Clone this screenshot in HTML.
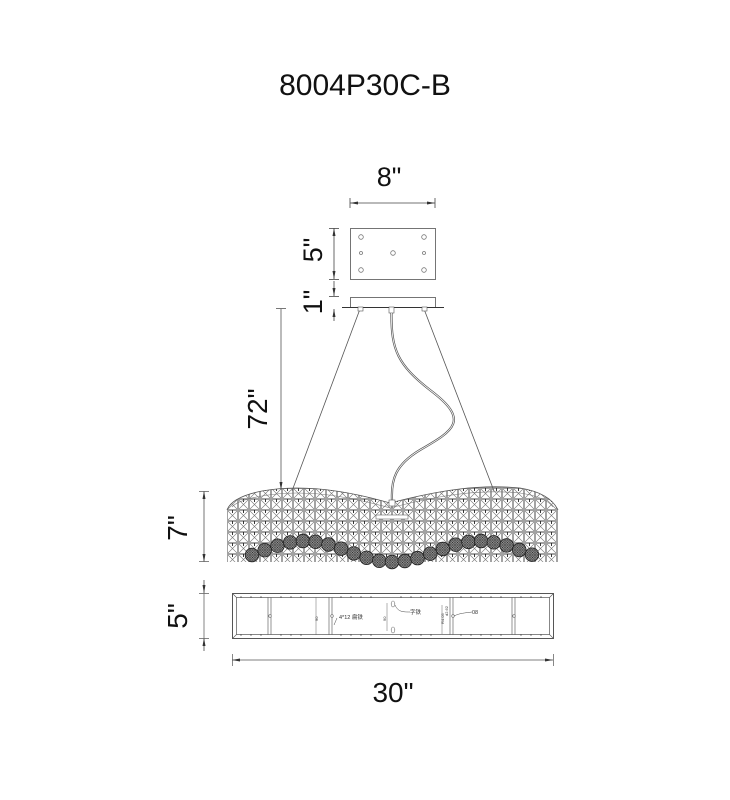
<!DOCTYPE html>
<html><head><meta charset="utf-8"><style>
html,body{margin:0;padding:0;background:#fff;}
svg{display:block;font-family:"Liberation Sans","Noto Sans CJK SC",sans-serif;}
</style></head><body>
<svg width="730" height="800" viewBox="0 0 730 800" xmlns="http://www.w3.org/2000/svg">
<defs>
<pattern id="grid" x="227" y="488" width="11" height="11" patternUnits="userSpaceOnUse">
<rect x="0.5" y="0.5" width="10" height="10" fill="none" stroke="#666" stroke-width="0.6"/>
<path d="M1,1L10,10M10,1L1,10" stroke="#777" stroke-width="0.55"/>
<path d="M5.5,0V3" stroke="#222" stroke-width="0.9"/>
</pattern>
<pattern id="mesh" width="2.5" height="2.5" patternUnits="userSpaceOnUse">
<rect width="2.5" height="2.5" fill="#888"/>
<path d="M0,0L2.5,2.5M2.5,0L0,2.5" stroke="#333" stroke-width="0.5"/>
</pattern>
<marker id="ar" markerWidth="8" markerHeight="6" refX="8" refY="3" orient="auto-start-reverse" markerUnits="userSpaceOnUse">
<path d="M0,1.5L8,3L0,4.5Z" fill="#333"/>
</marker>
<clipPath id="body"><path d="M227,510 Q232,497 262,491 C300,484 345,490 390,503 C440,490 480,484 520,488 Q550,493 558,510 L558,562 L227,562Z"/></clipPath>
</defs>

<text x="365" y="95" font-size="30" text-anchor="middle" fill="#111">8004P30C-B</text>
<text x="389" y="186" font-size="27" text-anchor="middle" fill="#111">8"</text>

<line x1="350" y1="203" x2="435" y2="203" stroke="#444" stroke-width="0.8" marker-start="url(#ar)" marker-end="url(#ar)"/>
<line x1="350" y1="198" x2="350" y2="208" stroke="#444" stroke-width="0.8"/>
<line x1="435" y1="198" x2="435" y2="208" stroke="#444" stroke-width="0.8"/>

<rect x="350.5" y="228.5" width="85" height="51" fill="#fff" stroke="#666" stroke-width="0.9"/>
<g fill="none" stroke="#777" stroke-width="0.8">
<circle cx="361" cy="237" r="2.3"/><circle cx="424" cy="237" r="2.3"/>
<circle cx="361" cy="253" r="1.5"/><circle cx="393" cy="253" r="2.3"/><circle cx="424" cy="253" r="1.5"/>
<circle cx="361" cy="270" r="2.3"/><circle cx="424" cy="270" r="2.3"/>
</g>
<rect x="350.5" y="297.5" width="85" height="10" fill="#fff" stroke="#666" stroke-width="0.9"/>
<line x1="342" y1="307.5" x2="444" y2="307.5" stroke="#333" stroke-width="1"/>

<line x1="334" y1="228" x2="334" y2="279" stroke="#444" stroke-width="0.8" marker-start="url(#ar)" marker-end="url(#ar)"/>
<line x1="329" y1="228.5" x2="339" y2="228.5" stroke="#444" stroke-width="0.8"/>
<line x1="329" y1="279.5" x2="339" y2="279.5" stroke="#444" stroke-width="0.8"/>
<line x1="334" y1="281" x2="334" y2="296" stroke="#444" stroke-width="0.8" marker-end="url(#ar)"/>
<line x1="334" y1="321" x2="334" y2="309" stroke="#444" stroke-width="0.8" marker-end="url(#ar)"/>
<line x1="329" y1="296.5" x2="339" y2="296.5" stroke="#444" stroke-width="0.8"/>
<text transform="translate(322,250) rotate(-90)" font-size="27" text-anchor="middle" fill="#111">5"</text>
<text transform="translate(322,302) rotate(-90)" font-size="27" text-anchor="middle" fill="#111">1"</text>

<line x1="281" y1="309" x2="281" y2="490" stroke="#555" stroke-width="0.8" marker-end="url(#ar)"/>
<line x1="276" y1="308.5" x2="286" y2="308.5" stroke="#555" stroke-width="0.8"/>
<text transform="translate(267,409) rotate(-90)" font-size="28" text-anchor="middle" fill="#111">72"</text>

<line x1="360" y1="309" x2="292" y2="491" stroke="#555" stroke-width="0.8"/>
<line x1="424" y1="309" x2="494" y2="491" stroke="#555" stroke-width="0.8"/>
<rect x="358" y="307" width="5" height="4" fill="#fff" stroke="#555" stroke-width="0.6"/>
<rect x="422" y="307" width="5" height="4" fill="#fff" stroke="#555" stroke-width="0.6"/>
<rect x="389" y="307" width="5" height="6" fill="#fff" stroke="#555" stroke-width="0.6"/>
<path d="M391.5,313 C391,350 398,365 430,390 C470,420 455,430 420,450 C395,465 391,480 392,500" fill="none" stroke="#555" stroke-width="2.2"/>
<path d="M391.5,313 C391,350 398,365 430,390 C470,420 455,430 420,450 C395,465 391,480 392,500" fill="none" stroke="#fff" stroke-width="0.8"/>

<g clip-path="url(#body)"><rect x="227" y="485" width="332" height="80" fill="url(#grid)"/></g>
<path d="M227,510 Q232,497 262,491 C300,484 345,490 390,503 C440,490 480,484 520,488 Q550,493 558,510" fill="none" stroke="#555" stroke-width="0.8"/>
<path d="M232,507 Q238,500 262,496 C300,489 345,495 390,508 C440,495 480,489 520,493 Q546,497 553,507" fill="none" stroke="#777" stroke-width="0.6"/>
<rect x="389" y="500" width="6" height="6" fill="#fff" stroke="#555" stroke-width="0.6"/>
<rect x="376" y="515" width="32" height="4" fill="#fff" stroke="#666" stroke-width="0.6"/>

<g fill="url(#mesh)" stroke="#222" stroke-width="0.8">
<circle cx="252" cy="555" r="6.8"/><circle cx="264.7" cy="550.2" r="6.8"/><circle cx="277.5" cy="545.7" r="6.8"/>
<circle cx="290.2" cy="542.4" r="6.8"/><circle cx="302.9" cy="541" r="6.8"/><circle cx="315.6" cy="541.8" r="6.8"/>
<circle cx="328.4" cy="544.5" r="6.8"/><circle cx="341.1" cy="548.7" r="6.8"/><circle cx="353.8" cy="553.4" r="6.8"/>
<circle cx="366.6" cy="557.8" r="6.8"/><circle cx="379.3" cy="560.8" r="6.8"/><circle cx="392" cy="562" r="6.8"/>
<circle cx="404.8" cy="561" r="6.8"/><circle cx="417.5" cy="558.1" r="6.8"/><circle cx="430.2" cy="553.7" r="6.8"/>
<circle cx="442.9" cy="549" r="6.8"/><circle cx="455.7" cy="544.7" r="6.8"/><circle cx="468.4" cy="541.9" r="6.8"/>
<circle cx="481.1" cy="541" r="6.8"/><circle cx="493.8" cy="542.3" r="6.8"/><circle cx="506.6" cy="545.4" r="6.8"/>
<circle cx="519.3" cy="550" r="6.8"/><circle cx="532" cy="554.7" r="6.8"/>
</g>

<line x1="204" y1="491" x2="204" y2="562" stroke="#666" stroke-width="0.9" marker-start="url(#ar)" marker-end="url(#ar)"/>
<line x1="199" y1="491.5" x2="209" y2="491.5" stroke="#666" stroke-width="0.8"/>
<line x1="199" y1="561.5" x2="209" y2="561.5" stroke="#666" stroke-width="0.8"/>
<text transform="translate(187,528) rotate(-90)" font-size="28" text-anchor="middle" fill="#111">7"</text>

<line x1="204" y1="580" x2="204" y2="651" stroke="#666" stroke-width="0.8"/>
<line x1="204" y1="580" x2="204" y2="593" stroke="#666" stroke-width="0.8" marker-end="url(#ar)"/>
<line x1="204" y1="651" x2="204" y2="638" stroke="#666" stroke-width="0.8" marker-end="url(#ar)"/>
<line x1="199" y1="593.5" x2="209" y2="593.5" stroke="#666" stroke-width="0.8"/>
<line x1="199" y1="638.5" x2="209" y2="638.5" stroke="#666" stroke-width="0.8"/>
<text transform="translate(187,616) rotate(-90)" font-size="28" text-anchor="middle" fill="#111">5"</text>

<rect x="232.5" y="593.5" width="321" height="45" fill="none" stroke="#444" stroke-width="0.9"/>
<rect x="236.5" y="597.5" width="313" height="37" fill="none" stroke="#555" stroke-width="0.7"/>
<path d="M232.5,593.5L236.5,597.5M553.5,593.5L549.5,597.5M232.5,638.5L236.5,634.5M553.5,638.5L549.5,634.5" stroke="#555" stroke-width="0.6"/>
<g stroke="#666" stroke-width="0.7">
<line x1="268" y1="597" x2="268" y2="635"/><line x1="271" y1="597" x2="271" y2="635"/>
<line x1="329" y1="597" x2="329" y2="635"/><line x1="332" y1="597" x2="332" y2="635"/>
<line x1="450" y1="597" x2="450" y2="635"/><line x1="453" y1="597" x2="453" y2="635"/>
<line x1="512" y1="597" x2="512" y2="635"/><line x1="515" y1="597" x2="515" y2="635"/>
<line x1="316" y1="597" x2="316" y2="635" stroke-width="0.5"/>
<line x1="387" y1="603" x2="387" y2="631" stroke-width="0.5"/>
<line x1="442" y1="605" x2="442" y2="634" stroke-width="0.5"/>
</g>
<g fill="#fff" stroke="#666" stroke-width="0.6">
<ellipse cx="393" cy="604" rx="1.8" ry="3"/><ellipse cx="393" cy="630" rx="1.8" ry="3"/>
<circle cx="270" cy="616" r="1.3"/><circle cx="332" cy="616" r="1.3"/><circle cx="453" cy="616" r="1.3"/><circle cx="514" cy="616" r="1.3"/>
</g>
<path d="M395,605 C398,612 403,612 410,612" fill="none" stroke="#444" stroke-width="0.5"/>
<path d="M454,616 C460,613 465,613 472,612" fill="none" stroke="#444" stroke-width="0.5"/>
<path d="M334,625 L337,618" stroke="#444" stroke-width="0.5"/>
<g font-size="5.5" fill="#333">
<text x="339" y="619">4*12 扁铁</text>
<text x="410" y="614">字铁</text>
<text x="472" y="614">08</text>
<text transform="translate(318,621) rotate(-90)" font-size="4">90</text>
<text transform="translate(386,621) rotate(-90)" font-size="4">90</text>
<text transform="translate(444,624) rotate(-90)" font-size="4">R4.05</text>
<text transform="translate(448,616) rotate(-90)" font-size="4">d2.62</text>
</g>
<g stroke="#333" stroke-width="0.6">
<path d="M241,596v2M251,596v2M261,596v2M281,596v2M291,596v2M301,596v2M341,596v2M351,596v2M361,596v2M371,596v2M401,596v2M411,596v2M421,596v2M431,596v2M461,596v2M471,596v2M481,596v2M491,596v2M501,596v2M521,596v2M531,596v2M541,596v2"/>
<path d="M241,634v2M251,634v2M261,634v2M281,634v2M291,634v2M301,634v2M341,634v2M351,634v2M361,634v2M371,634v2M401,634v2M411,634v2M421,634v2M431,634v2M461,634v2M471,634v2M481,634v2M491,634v2M501,634v2M521,634v2M531,634v2M541,634v2"/>
</g>

<line x1="232" y1="660" x2="553" y2="660" stroke="#555" stroke-width="0.8" marker-start="url(#ar)" marker-end="url(#ar)"/>
<line x1="232.5" y1="654" x2="232.5" y2="666" stroke="#555" stroke-width="0.7"/>
<line x1="553.5" y1="654" x2="553.5" y2="666" stroke="#555" stroke-width="0.7"/>
<text x="393" y="702" font-size="28" text-anchor="middle" fill="#111">30"</text>
</svg>
</body></html>
